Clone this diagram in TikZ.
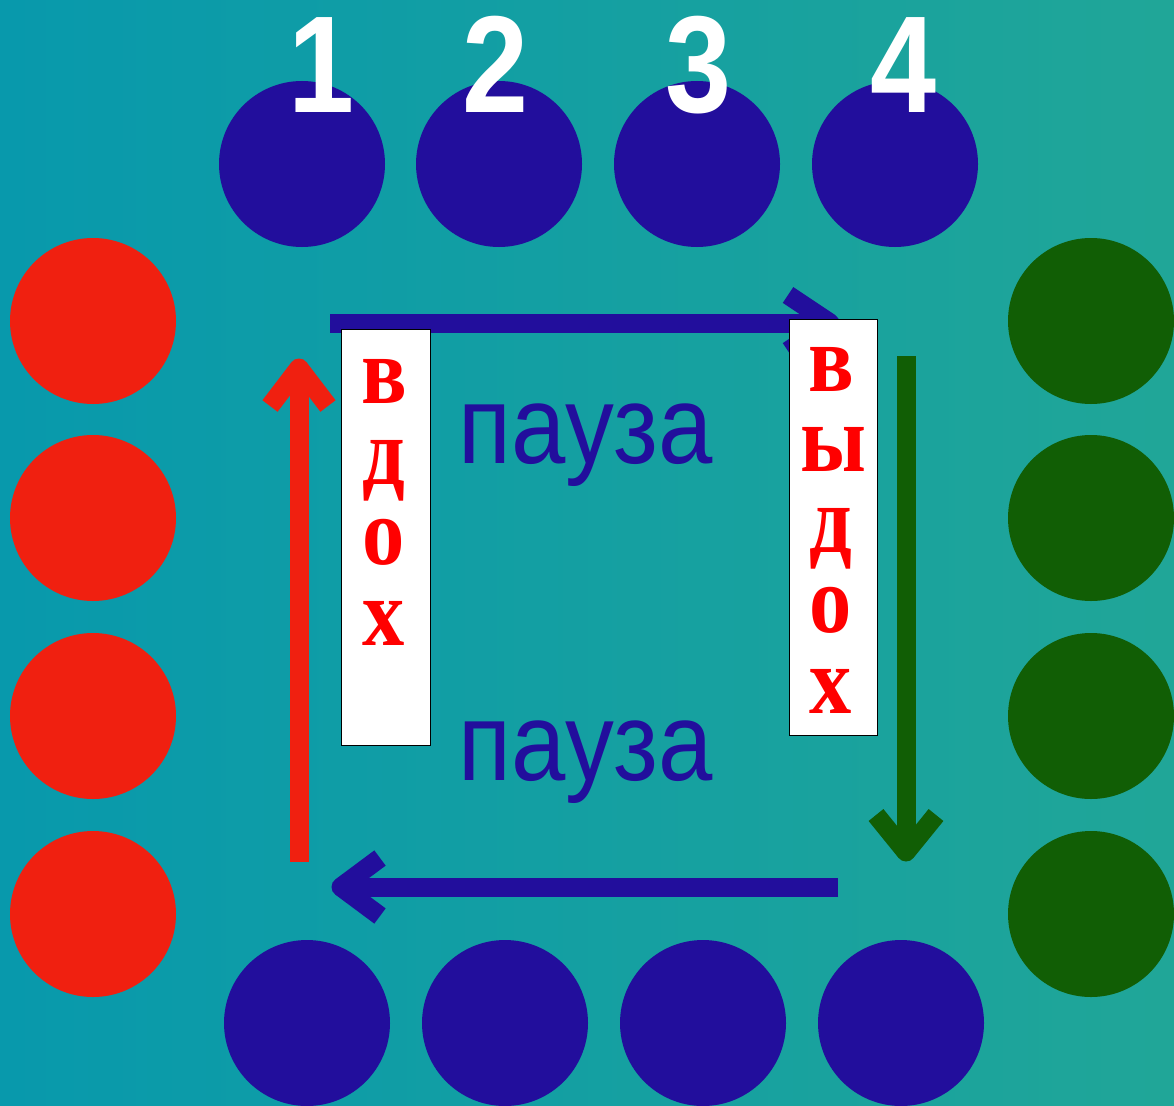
\documentclass[tikz,border=0pt]{standalone}
\usepackage{fontspec}
\usepackage{graphicx}
\setmainfont{Liberation Serif}
\newfontfamily\sansf{Liberation Sans}
\definecolor{bgl}{RGB}{8,153,172}
\definecolor{bgr}{RGB}{32,166,152}
\definecolor{cblue}{RGB}{34,14,156}
\definecolor{cred}{RGB}{240,32,16}
\definecolor{cgreen}{RGB}{17,94,5}
\definecolor{tred}{RGB}{255,0,0}
\tikzset{
  dot/.style={circle, minimum size=166pt, inner sep=0pt, draw=none},
  bluedot/.style={dot, fill=cblue},
  reddot/.style={dot, fill=cred},
  greendot/.style={dot, fill=cgreen},
  arr/.style={line width=19pt, line join=round},
  vword/.style={font=\fontsize{96}{80.5}\selectfont\bfseries, text=tred, align=center, anchor=base, inner sep=0pt},
  wbox/.style={draw=black, fill=white, line width=1.2pt, inner sep=0pt, anchor=north west},
  digit/.style={font=\sansf\bfseries\fontsize{138}{138}\selectfont, text=white, anchor=base, inner sep=0pt},
  pausetxt/.style={font=\sansf\fontsize{111}{111}\selectfont, text=cblue, anchor=base, inner sep=0pt}
}
\newcommand{\lt}[1]{\scalebox{0.88}[1]{#1}}
\begin{document}
\begin{tikzpicture}[x=1pt,y=-1pt]
\useasboundingbox (0,0) rectangle (1174,1105);
\shade[left color=bgl, right color=bgr] (0,0) rectangle (1174,1105);

% top row
\node[bluedot] (t1) at (302,164) {};
\node[bluedot] (t2) at (499,164) {};
\node[bluedot] (t3) at (697,164) {};
\node[bluedot] (t4) at (895,164) {};
% bottom row
\node[bluedot] (b1) at (307,1023) {};
\node[bluedot] (b2) at (505,1023) {};
\node[bluedot] (b3) at (703,1023) {};
\node[bluedot] (b4) at (901,1023) {};
% left column
\node[reddot] (l1) at (93,321) {};
\node[reddot] (l2) at (93,518) {};
\node[reddot] (l3) at (93,716) {};
\node[reddot] (l4) at (93,914) {};
% right column
\node[greendot] (r1) at (1091,321) {};
\node[greendot] (r2) at (1091,518) {};
\node[greendot] (r3) at (1091,716) {};
\node[greendot] (r4) at (1091,914) {};

% digits
\node[digit] (d1) at (321,113) {\scalebox{0.86}[1]{1}};
\node[digit] (d2) at (495,113) {\scalebox{0.86}[1]{2}};
\node[digit] (d3) at (698,113) {\scalebox{0.86}[1]{3}};
\node[digit] (d4) at (903,113) {\scalebox{0.86}[1]{4}};

% red arrow (up)
\coordinate (rs) at (299,862);
\coordinate (rt) at (299,368);
\coordinate (ra1) at (270,406);
\coordinate (ra2) at (328,406);
\draw[arr, cred] (rs) -- ([yshift=-10pt]rt);
\draw[arr, cred] (ra1) -- (rt) -- (ra2);

% top blue arrow (right)
\coordinate (us) at (330,323);
\coordinate (ut) at (830,323);
\coordinate (ua1) at (788,295);
\coordinate (ua2) at (788,351);
\draw[arr, cblue] (us) -- ([xshift=-10pt]ut);
\draw[arr, cblue] (ua1) -- (ut) -- (ua2);

% green arrow (down)
\coordinate (gs) at (906,356);
\coordinate (gt) at (906,852);
\coordinate (ga1) at (876,815);
\coordinate (ga2) at (936,815);
\draw[arr, cgreen] (gs) -- ([yshift=10pt]gt);
\draw[arr, cgreen] (ga1) -- (gt) -- (ga2);

% bottom blue arrow (left)
\coordinate (ls) at (838,887);
\coordinate (lt) at (341,887);
\coordinate (la1) at (380,858);
\coordinate (la2) at (380,916);
\draw[arr, cblue] (ls) -- ([xshift=10pt]lt);
\draw[arr, cblue] (la1) -- (lt) -- (la2);

% boxes
\node[wbox, minimum width=89pt, minimum height=416pt] (box1) at (341,329) {};
\node[wbox, minimum width=88pt, minimum height=416pt] (box2) at (789,319) {};

% vertical words (base anchor = last line)
\node[vword] (inhale) at (384,645) {\lt{в}\\\lt{д}\\\lt{о}\\\lt{х}};
\node[vword] (exhale) at (831,713) {\lt{в}\\\hspace*{4pt}\lt{ы}\\\lt{д}\\\lt{о}\\\lt{х}};

% pauses
\node[pausetxt] (p1) at (586,463) {\scalebox{0.88}[1]{пауза}};
\node[pausetxt] (p2) at (586,780) {\scalebox{0.88}[1]{пауза}};
\end{tikzpicture}
\end{document}
